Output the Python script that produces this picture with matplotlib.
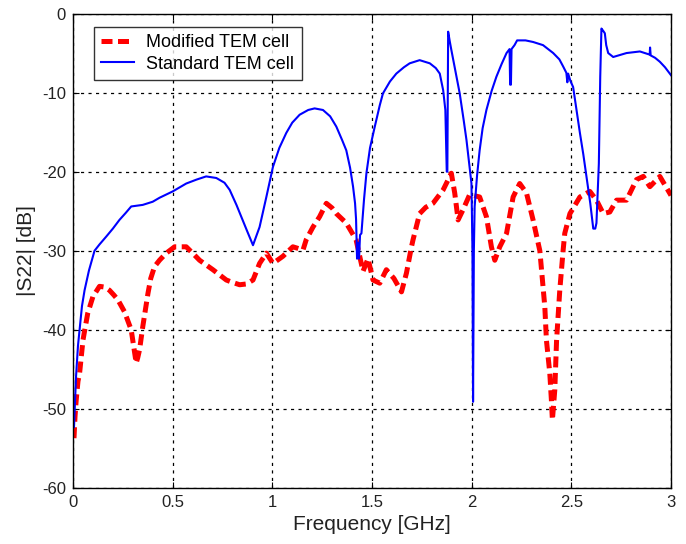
import matplotlib
matplotlib.use("Agg")
import matplotlib.pyplot as plt

plt.rcParams['font.family'] = ['Liberation Sans', 'DejaVu Sans']
plt.rcParams['axes.unicode_minus'] = False

std_freq = [0.005, 0.015, 0.025, 0.033, 0.045, 0.058, 0.08, 0.108, 0.133, 0.167, 0.2, 0.233,
            0.265, 0.292, 0.35, 0.4, 0.434, 0.5, 0.568, 0.62, 0.668, 0.719, 0.76, 0.786, 0.82,
            0.844, 0.875, 0.903, 0.936, 0.97, 1.003, 1.035, 1.07, 1.1, 1.137, 1.18, 1.212,
            1.254, 1.29, 1.321, 1.35, 1.371, 1.39, 1.405, 1.415, 1.42, 1.425, 1.43, 1.435,
            1.44, 1.447, 1.46, 1.472, 1.49, 1.514, 1.539, 1.555, 1.59, 1.622, 1.66, 1.689,
            1.739, 1.79, 1.82, 1.84, 1.857, 1.868, 1.875, 1.878, 1.882, 1.89, 1.898, 1.92,
            1.94, 1.96, 1.974, 1.99, 1.999, 2.004, 2.007, 2.011, 2.015, 2.027, 2.04, 2.055,
            2.074, 2.1, 2.124, 2.15, 2.175, 2.19, 2.193, 2.197, 2.2, 2.215, 2.228, 2.27,
            2.308, 2.358, 2.409, 2.44, 2.459, 2.475, 2.48, 2.484, 2.495, 2.509, 2.525, 2.543,
            2.56, 2.576, 2.595, 2.61, 2.62, 2.626, 2.638, 2.645, 2.651, 2.66, 2.668, 2.675,
            2.685, 2.71, 2.75, 2.777, 2.844, 2.88, 2.893, 2.895, 2.898, 2.92, 2.944, 2.97, 3.0]
std_db = [-52.3, -46, -42, -40, -37, -35, -32.5, -30, -29.2, -28.2, -27.2, -26.1,
          -25.2, -24.4, -24.2, -23.8, -23.3, -22.5, -21.5, -21.0, -20.6, -20.8, -21.4, -22.3, -24.2,
          -25.7, -27.6, -29.3, -27, -23.2, -19.4, -17, -15.1, -13.8, -12.8, -12.2, -12.0,
          -12.2, -13, -14.3, -16, -17.3, -19.5, -21.9, -24, -26, -31, -29, -31,
          -28, -27.8, -23.5, -20.2, -17, -14.3, -11.6, -10.1, -8.6, -7.6, -6.8, -6.3,
          -5.9, -6.3, -6.9, -7.6, -9.7, -12.2, -20, -20, -2.3, -3.5, -4.6, -7.5,
          -10.1, -13.5, -16, -19.5, -21.5, -30, -49.1, -30, -24.4, -20.5, -17.3, -14.5,
          -12.2, -9.8, -8.0, -6.4, -5.0, -4.5, -9, -9, -4.5, -4, -3.4, -3.4,
          -3.6, -4.0, -5.0, -5.8, -6.7, -7.5, -8.7, -7.6, -8.5, -9.3, -12, -15.1,
          -17.8, -20.6, -24, -27.2, -27.2, -26.5, -19, -8, -1.9, -2.2, -2.5, -4,
          -5.0, -5.5, -5.2, -5.0, -4.8, -5.1, -5.2, -4.3, -5.3, -5.6, -6.1, -6.8, -7.8]

mod_freq = [0.005, 0.01, 0.016, 0.025, 0.033, 0.05, 0.074, 0.1, 0.133, 0.16, 0.183, 0.205,
            0.225, 0.258, 0.292, 0.317, 0.325, 0.334, 0.35, 0.376, 0.39, 0.409, 0.434, 0.468,
            0.51, 0.568, 0.6, 0.635, 0.702, 0.769, 0.8, 0.836, 0.87, 0.903, 0.936, 0.97,
            1.003, 1.053, 1.103, 1.154, 1.17, 1.204, 1.237, 1.271, 1.3, 1.321, 1.371, 1.42,
            1.455, 1.48, 1.505, 1.539, 1.572, 1.61, 1.648, 1.673, 1.698, 1.706, 1.739, 1.77,
            1.806, 1.857, 1.898, 1.915, 1.932, 1.957, 1.99, 2.04, 2.074, 2.099, 2.116, 2.141,
            2.175, 2.208, 2.241, 2.275, 2.308, 2.342, 2.367, 2.375, 2.392, 2.4, 2.405, 2.417,
            2.426, 2.442, 2.459, 2.467, 2.493, 2.543, 2.593, 2.626, 2.66, 2.693, 2.727, 2.777,
            2.827, 2.861, 2.894, 2.944, 3.0]
mod_db = [-53.7, -51, -48.9, -46.5, -45.5, -41.3, -37.9, -35.8, -34.5, -34.6, -35, -35.6,
          -36.2, -37.7, -40, -44.2, -43.5, -42.5, -39.6, -35.4, -33.5, -32, -31.2, -30.3,
          -29.5, -29.5, -30.3, -31.2, -32.4, -33.7, -34, -34.3, -34.2, -33.7, -31.6, -30.3,
          -31.6, -30.7, -29.5, -29.9, -28.6, -27, -25.7, -24, -24.6, -25.3, -26.5, -28.6,
          -32.6, -31, -33.7, -34.1, -32.4, -33.5, -35.2, -32.8, -29.5, -28.6, -25.3, -24.5,
          -24, -22.3, -20.2, -22.7, -26.1, -24.8, -22.9, -23.2, -25.7, -29.5, -31.2, -29.5,
          -27.8, -23.2, -21.5, -22.7, -26.1, -30, -37.1, -41.3, -45.5, -48.9, -51.4, -47.6,
          -41.3, -35, -29.9, -27.8, -25.3, -23.2, -22.5, -23.6, -25.3, -25.1, -23.6, -23.6,
          -21, -20.6, -21.9, -20.6, -23]

x_ticks = [0, 0.5, 1, 1.5, 2, 2.5, 3]
x_labels = ['0', '0.5', '1', '1.5', '2', '2.5', '3']
y_ticks = [0, -10, -20, -30, -40, -50, -60]

fig = plt.figure(figsize=(6.86, 5.44), dpi=100)
ax = fig.add_axes([73/686, 1 - 488/544, (671 - 73)/686, (488 - 13.5)/544])

ax.plot(mod_freq, mod_db, color='#ff0000', linewidth=3.6, linestyle=(0, (2.2, 1.1)),
        label='Modified TEM cell')
ax.plot(std_freq, std_db, color='#0000ff', linewidth=1.5, label='Standard TEM cell')

ax.set_xlim(0, 3)
ax.set_ylim(-60, 0)
ax.set_xticks(x_ticks)
ax.set_xticklabels(x_labels)
ax.set_yticks(y_ticks)
ax.grid(True, color='black', linestyle=(0, (2.5, 3.5)), linewidth=0.9)
ax.tick_params(direction='in', length=4, labelsize=12, top=True, right=True, pad=5,
               labelcolor='#222222')
for s in ax.spines.values():
    s.set_linewidth(1.0)
ax.set_xlabel('Frequency [GHz]', fontsize=15, labelpad=4, color='#222222')
ax.set_ylabel('|S22| [dB]', fontsize=15, labelpad=4, color='#222222')

leg = ax.legend(loc='upper left', bbox_to_anchor=(0.035, 0.972), fontsize=13, frameon=True,
                fancybox=False, edgecolor='black', handlelength=1.8, borderpad=0.4,
                labelspacing=0.25, handletextpad=0.7, borderaxespad=0)
leg.get_frame().set_linewidth(1.0)

fig.savefig('out.png', dpi=100)
